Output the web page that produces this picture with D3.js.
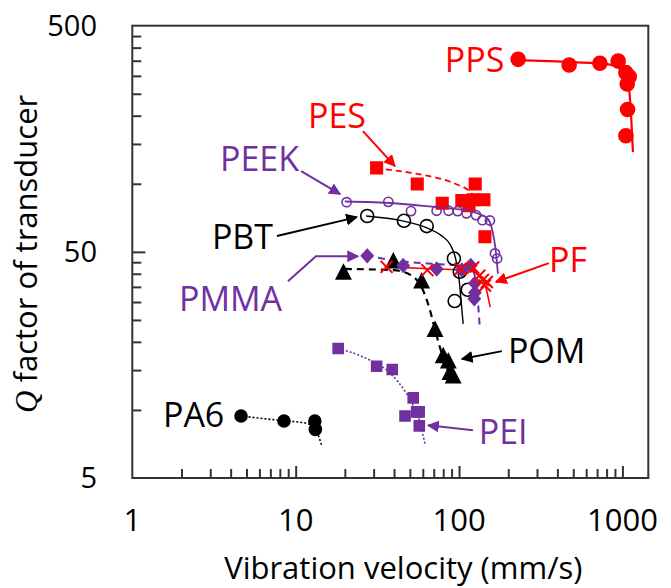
<!DOCTYPE html>
<html>
<head>
<meta charset="utf-8">
<script src="https://cdn.jsdelivr.net/npm/d3@7"></script>
<style>
  body { margin: 0; background: #fff; }
  text { font-family: "Open Sans", "Noto Sans", sans-serif; }
</style>
</head>
<body>
<svg id="chart" width="671" height="588"></svg>
<script>
// points: [vibration velocity (mm/s), Q]
const ppsPts  = [[230,355],[472,335],[728,341],[942,349],[1050,310],[1101,297],[1070,276],[1075,213],[1050,163]];
const ppsFit  = [[220,352],[500,345],[800,338],[950,325],[1050,300],[1100,260],[1130,200],[1160,138]];
const pesPts  = [[31.3,117.6],[55.5,99.7],[125.6,99.8],[78.9,82],[104,84.2],[122,85],[142,85],[115,80],[144,58.3]];
const pesFit  = [[31,117],[50,112],[70,107],[95,100],[117,92],[128,85]];
const peekPts = [[20.5,82.9],[36.9,83.2],[50.8,75.7],[72.9,76],[86.3,76],[98,75.7],[111,74],[127,72.7],[139,69],[154.5,68.8],[166,49.2],[171,46.7]];
const peekFit = [[20,83.5],[40,82],[70,79],[100,77],[130,74],[150,70],[160,62],[167,52],[173,40]];
const pbtPts  = [[27.4,72],[46,68.6],[63.4,65],[93,46.7],[101,40.8],[113,34],[94,30.3]];
const pbtFit  = [[27,72],[45,68.5],[63,64],[78,59],[88,54],[95,47],[100,38],[103,30],[106,24]];
const pmmaPts = [[27.4,48],[45.5,43.5],[73,42],[104,41.6],[118,43.5],[125,36.3],[125,33],[124,31]];
const pmmaFit = [[27,48],[50,45],[80,44],[110,43],[122,41],[128,35],[131,29],[134,23]];
const pfPts   = [[36,42.9],[64,41.5],[102,42],[122,42.6],[133,39.2],[140,37.6],[148,36.8],[144,35.5]];
const pfFit   = [[35,43],[70,42],[110,41.5],[130,40],[143,36.5],[150,32],[155,28.5]];
const pomPts  = [[19.6,40.3],[39.6,45.2],[59,36.8],[71.3,22.5],[80,17.2],[86,16.3],[88,14.5],[92,14]];
const pomFit  = [[20,42],[40,41.5],[52,39],[60,34],[66,28],[72,22],[80,17],[86,14.8],[92,13.5]];
const peiPts  = [[18.2,18.7],[31.3,15.6],[39,15.1],[52.4,11.3],[46.7,9.4],[55,9.8],[57,9.8],[57.1,8.5]];
const peiFit  = [[18.2,18.7],[28,16.7],[38,14.5],[47,12],[53,10.3],[58,8.7],[62,7]];
const pa6Pts  = [[4.63,9.4],[8.48,8.93],[13.1,8.93],[13.2,8.2]];
const pa6Fit  = [[4.6,9.4],[8.5,8.95],[11.5,8.75],[13.2,8.2],[14.4,7]];

// axis ticks
const xTickLabels = [1, 10, 100, 1000];
const xMinor = [2,3,4,5,6,7,8,9,20,30,40,50,60,70,80,90,200,300,400,500,600,700,800,900];
const yTickLabels = [5, 50, 500];
const yMinor = [10,15,20,25,30,35,40,45,100,150,200,250,300,350,400,450];

// labels and arrows (data coordinates)
const labels = [
  {t:"PPS", v:81.8, q:313, c:"red"},
  {t:"PES", v:11.9, q:176, c:"red"},
  {t:"PEEK", v:3.44, q:113.8, c:"purple"},
  {t:"PBT", v:3.07, q:51.4, c:"black"},
  {t:"PMMA", v:1.93, q:27.3, c:"purple"},
  {t:"PF", v:355, q:40.7, c:"red"},
  {t:"POM", v:199, q:16.2, c:"black"},
  {t:"PA6", v:1.54, q:8.4, c:"black"},
  {t:"PEI", v:132, q:7.04, c:"purple"}
];
const arrows = [
  {c:"red", pts:[[25.8,171],[40.5,119.7]]},
  {c:"purple", pts:[[10.8,113.8],[18.7,90]]},
  {c:"black", pts:[[7.68,58.7],[23.7,71.2]]},
  {c:"purple", pts:[[8.97,37.1],[13.3,47.8],[24.1,47.8]]},
  {c:"red", pts:[[355,44.6],[168,36.8]]},
  {c:"black", pts:[[183,18.2],[104,16.8]]},
  {c:"purple", pts:[[121.6,8.13],[64.6,8.55]]}
];

const colors = {red: "#ff0000", purple: "#7030a0", black: "#000000"};

const svg = d3.select("#chart");
const x = d3.scaleLog().domain([1, 1440]).range([132.3, 648.3]);
const y = d3.scaleLog().domain([5, 500]).range([478, 25.7]);

// frame
svg.append("rect")
  .attr("x", x(1)).attr("y", y(500))
  .attr("width", x(1440) - x(1)).attr("height", y(5) - y(500))
  .attr("fill", "none").attr("stroke", "#333").attr("stroke-width", 2);

// ticks (inward)
svg.append("g").attr("transform", `translate(0,${y(5)})`)
  .call(d3.axisBottom(x).tickValues(xMinor).tickSize(-9).tickFormat(""))
  .call(g => g.select(".domain").remove());
svg.append("g").attr("transform", `translate(0,${y(5)})`)
  .call(d3.axisBottom(x).tickValues(xTickLabels.slice(1)).tickSize(-12).tickFormat(""))
  .call(g => g.select(".domain").remove());
svg.append("g").attr("transform", `translate(${x(1)},0)`)
  .call(d3.axisLeft(y).tickValues(yMinor).tickSize(-9).tickFormat(""))
  .call(g => g.select(".domain").remove());
svg.append("g").attr("transform", `translate(${x(1)},0)`)
  .call(d3.axisLeft(y).tickValues([50]).tickSize(-13).tickFormat(""))
  .call(g => g.select(".domain").remove());
svg.selectAll(".tick line").attr("stroke", "#333").attr("stroke-width", 2);

// tick labels
svg.append("g").selectAll("text").data(xTickLabels).join("text")
  .attr("x", d => x(d)).attr("y", 531)
  .attr("text-anchor", "middle").attr("font-size", 31).text(d => d);
svg.append("g").selectAll("text").data(yTickLabels).join("text")
  .attr("x", 97).attr("y", d => y(d) + 10)
  .attr("text-anchor", "end").attr("font-size", 29).text(d => d);

// axis titles
svg.append("text").attr("x", (x(1) + x(1440)) / 2 + 13).attr("y", 579)
  .attr("text-anchor", "middle").attr("font-size", 31).text("Vibration velocity (mm/s)");
const yt = svg.append("text")
  .attr("transform", `translate(37,${(y(5) + y(500)) / 2 + 2}) rotate(-90)`)
  .attr("text-anchor", "middle").attr("font-size", 31);
yt.append("tspan").attr("font-family", "'Liberation Serif', serif").attr("font-style", "italic").text("Q");
yt.append("tspan").text(" factor of transducer");

// fitted lines
const line = d3.line().x(d => x(d[0])).y(d => y(d[1])).curve(d3.curveMonotoneX);
const fits = [
  {d: ppsFit, c: "red", w: 2.2, dash: null},
  {d: pesFit, c: "red", w: 1.8, dash: "6,4"},
  {d: peekFit, c: "purple", w: 1.8, dash: null},
  {d: pbtFit, c: "black", w: 1.4, dash: null},
  {d: pmmaFit, c: "purple", w: 2, dash: "7,5"},
  {d: pfFit, c: "red", w: 1.6, dash: null},
  {d: pomFit, c: "black", w: 2.2, dash: "7,5"},
  {d: peiFit, c: "purple", w: 1.6, dash: "2,2"},
  {d: pa6Fit, c: "black", w: 1.6, dash: "2,2"}
];
svg.append("g").selectAll("path").data(fits).join("path")
  .attr("d", d => line(d.d)).attr("fill", "none")
  .attr("stroke", d => colors[d.c]).attr("stroke-width", d => d.w)
  .attr("stroke-dasharray", d => d.dash);

// markers
function shape(type, s) {
  if (type === "circle") return d3.symbol(d3.symbolCircle, Math.PI * s * s)();
  if (type === "square") return d3.symbol(d3.symbolSquare, s * s)();
  if (type === "triangle") return `M0,${-s * 0.62}L${s * 0.55},${s * 0.45}L${-s * 0.55},${s * 0.45}Z`;
  if (type === "diamond") return `M0,${-s}L${s * 0.9},0L0,${s}L${-s * 0.9},0Z`;
  if (type === "x") return `M${-s},${-s}L${s},${s}M${-s},${s}L${s},${-s}`;
}
const series = [
  {d: pesPts, type: "square", s: 11.5, c: "red", fill: true},
  {d: ppsPts, type: "circle", s: 7, c: "red", fill: true},
  {d: peekPts, type: "circle", s: 4.6, c: "purple", fill: false},
  {d: pbtPts, type: "circle", s: 6.5, c: "black", fill: false},
  {d: pomPts, type: "triangle", s: 13, c: "black", fill: true},
  {d: pmmaPts, type: "diamond", s: 6.5, c: "purple", fill: true},
  {d: pfPts, type: "x", s: 6, c: "red", fill: false},
  {d: peiPts, type: "square", s: 10, c: "purple", fill: true},
  {d: pa6Pts, type: "circle", s: 6, c: "black", fill: true}
];
series.forEach(sr => {
  svg.append("g").selectAll("path").data(sr.d).join("path")
    .attr("transform", d => `translate(${x(d[0])},${y(d[1])})`)
    .attr("d", shape(sr.type, sr.s))
    .attr("fill", sr.fill ? colors[sr.c] : "none")
    .attr("stroke", colors[sr.c])
    .attr("stroke-width", sr.type === "x" ? 2 : 1.6);
});

// arrows
const defs = svg.append("defs");
Object.keys(colors).forEach(k => {
  defs.append("marker").attr("id", "arr-" + k)
    .attr("viewBox", "0 0 10 10").attr("refX", 9).attr("refY", 5)
    .attr("markerWidth", 6).attr("markerHeight", 6).attr("orient", "auto")
    .attr("markerUnits", "strokeWidth")
    .append("path").attr("d", "M0,0L10,5L0,10Z").attr("fill", colors[k]);
});
const aline = d3.line().x(d => x(d[0])).y(d => y(d[1]));
svg.append("g").selectAll("path").data(arrows).join("path")
  .attr("d", d => aline(d.pts)).attr("fill", "none")
  .attr("stroke", d => colors[d.c]).attr("stroke-width", 2)
  .attr("marker-end", d => `url(#arr-${d.c})`);

// series labels
svg.append("g").selectAll("text").data(labels).join("text")
  .attr("x", d => x(d.v)).attr("y", d => y(d.q))
  .attr("fill", d => colors[d.c]).attr("font-size", 34).text(d => d.t);
</script>
</body>
</html>
